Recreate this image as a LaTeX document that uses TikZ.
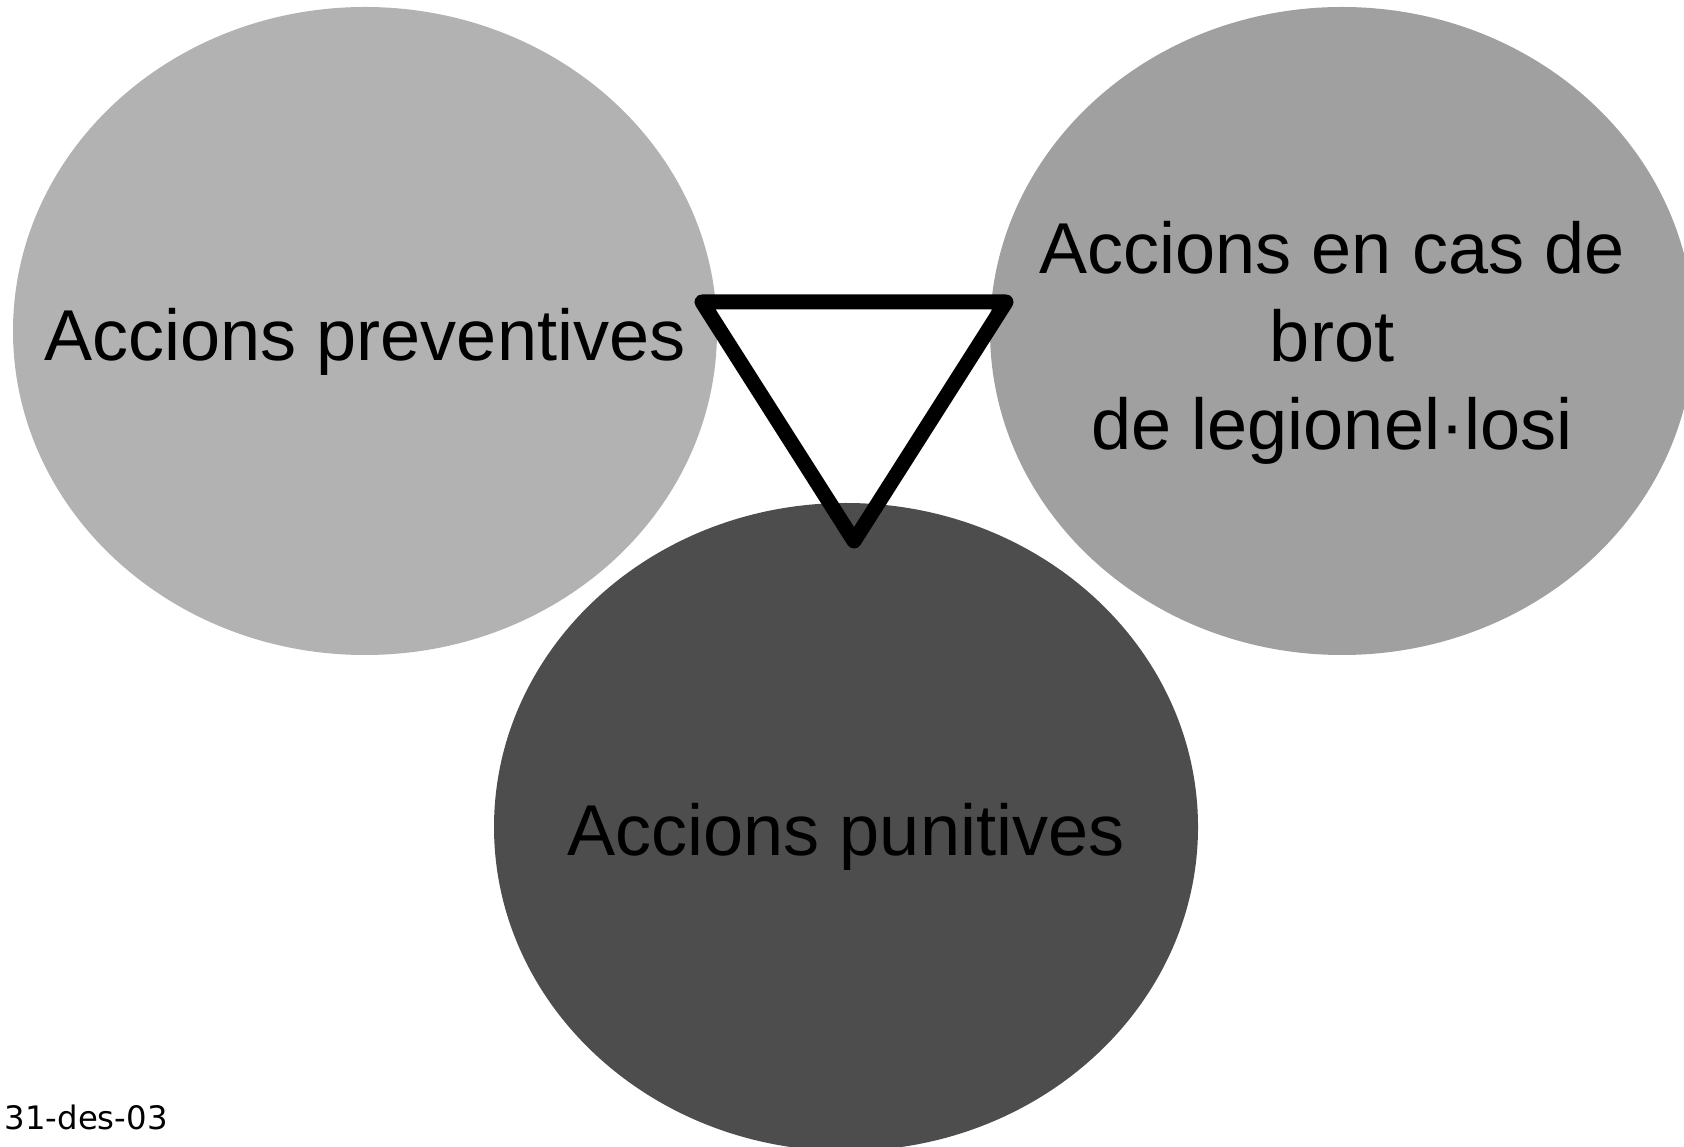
\documentclass[tikz,border=0pt]{standalone}
\usepackage{fontspec}
\setmainfont{Liberation Sans}
\newfontfamily\datefont{DejaVu Sans}
\usepackage{xcolor}
\usepackage{tikz}

\definecolor{lightbubble}{RGB}{178,178,178}
\definecolor{midbubble}{RGB}{160,160,160}
\definecolor{darkbubble}{RGB}{77,77,77}

\begin{document}
\begin{tikzpicture}[label/.style={align=center,inner sep=0pt,font=\fontsize{20.5}{25}\selectfont}]
    \useasboundingbox(0,0)rectangle(16.84,11.46);
    \clip(0,0)rectangle(16.84,11.46);
    \fill[lightbubble](3.65,8.15)ellipse[x radius=3.52,y radius=3.24];
    \fill[midbubble](13.42,8.15)ellipse[x radius=3.52,y radius=3.24];
    \fill[darkbubble](8.46,3.19)ellipse[x radius=3.52,y radius=3.24];
    \node[label](prev)at(3.65,8.04){Accions preventives};
    \node[label](brot)at(13.32,8.03){Accions en cas de\\brot\\de legionel·losi};
    \node[label](puni)at(8.46,3.09){Accions punitives};
    \coordinate(tl)at(7.02,8.44);
    \coordinate(tr)at(10.06,8.44);
    \coordinate(tb)at(8.54,6.05);
    \draw[line width=0.15cm,line join=round](tl)--(tr)--(tb)--cycle;
    \node[anchor=base west,inner sep=0pt,font=\datefont\fontsize{9.2}{11}\selectfont](date)at(0.04,0.17){31-des-03};
  \end{tikzpicture}
\end{document}
